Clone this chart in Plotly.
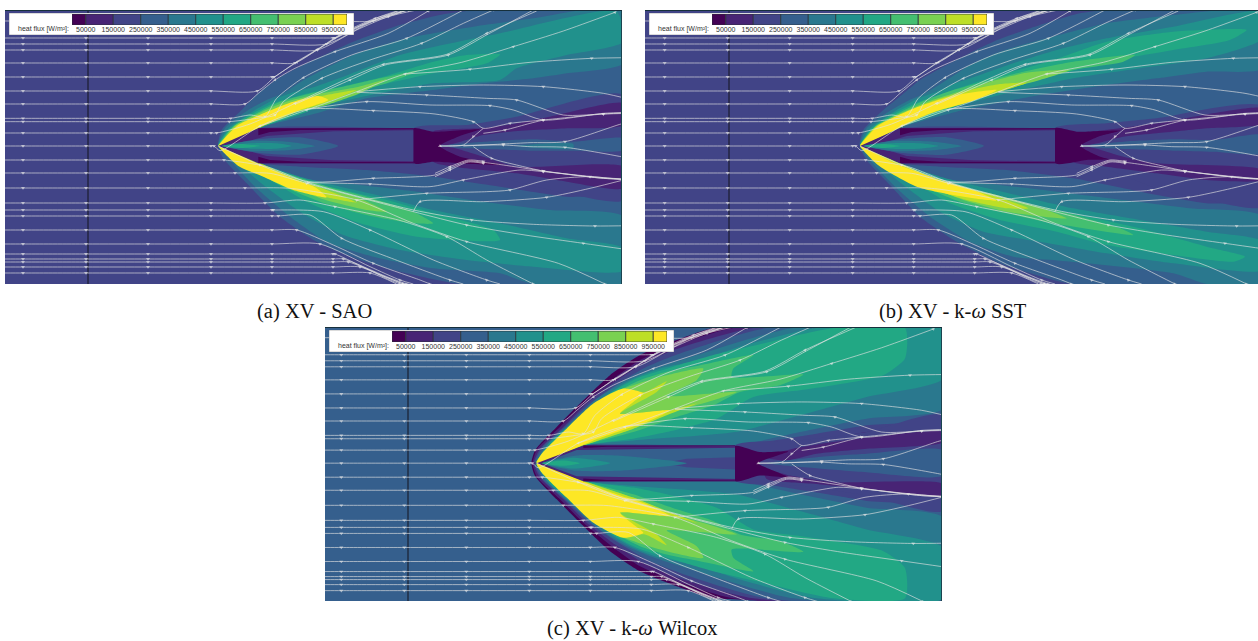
import numpy as np
import plotly.graph_objects as go

W, H = 1258, 641
COLORS = ["#440154", "#482475", "#414487", "#355f8d", "#2a788e", "#21918c",
          "#22a884", "#44bf70", "#7ad151", "#bddf26", "#fde725"]
LEVEL_EDGES = [0, 50000, 150000, 250000, 350000, 450000, 550000, 650000, 750000, 850000, 950000, 1000000]
TICK_VALUES = [50000, 150000, 250000, 350000, 450000, 550000, 650000, 750000, 850000, 950000]
TICK_TEXT = [str(v) for v in TICK_VALUES]
LEGEND_TITLE = "heat flux [W/m²]:"
CAPTIONS = ["(a) XV - SAO", "(b) XV - k-<i>ω</i> SST", "(c) XV - k-<i>ω</i> Wilcox"]

# ---- heat-flux bands: (level index, outline points)
SAO_BANDS = [
 (3,[(55,258),(65,210),(125,150),(175,100),(235,55),(320,10),(460,-55),(600,-105),(720,-135),(830,-150),(1270,-150),(1270,115),(1100,145),(950,175),(850,190),(700,205),(180,205)]),
 (3,[(55,258),(70,295),(140,370),(240,470),(350,545),(480,600),(620,640),(780,672),(1270,672),(1270,420),(1100,410),(900,380),(700,350),(500,330),(300,320),(180,310)]),
 (4,[(55,258),(75,205),(145,150),(200,120),(250,100),(320,55),(460,-15),(620,-65),(820,-100),(1000,-125),(1150,-150),(1270,-150),(1270,10),(1100,40),(1000,55),(850,70),(700,90),(500,115),(350,160),(190,200)]),
 (4,[(55,258),(85,295),(170,385),(270,470),(380,545),(520,590),(700,625),(900,640),(1000,672),(1270,672),(1270,470),(1050,450),(850,425),(650,395),(480,375),(300,355),(180,310)]),
 (5,[(55,258),(85,205),(120,180),(165,150),(230,115),(285,95),(345,80),(430,50),(600,-15),(900,-80),(1250,-145),(1270,-55),(1100,-15),(950,25),(900,60),(700,70),(560,95),(400,130),(300,162),(180,200)]),
 (5,[(55,258),(95,295),(190,375),(300,455),(430,525),(600,570),(800,600),(1000,620),(1270,632),(1270,565),(1100,535),(900,490),(700,450),(550,410),(400,375),(300,350),(180,310)]),
 (6,[(55,258),(90,205),(140,170),(220,130),(325,100),(400,85),(550,50),(700,5),(800,-15),(900,-17),(860,10),(700,40),(500,85),(400,115),(320,155),(180,203)]),
 (6,[(55,258),(110,295),(220,365),(330,430),(480,490),(650,530),(900,540),(880,510),(720,465),(560,420),(430,390),(310,360),(170,310)]),
 (7,[(55,258),(95,205),(150,170),(240,125),(340,98),(430,80),(540,55),(660,30),(560,70),(450,100),(350,135),(250,170),(170,205)]),
 (7,[(55,258),(110,305),(240,375),(360,425),(500,465),(640,490),(700,490),(640,455),(500,410),(400,385),(320,360),(170,310)]),
 (8,[(60,258),(100,200),(150,172),(250,128),(350,103),(470,82),(560,58),(480,100),(380,135),(280,160),(170,205)]),
 (8,[(60,258),(125,310),(250,370),(370,418),(500,450),(560,455),(470,412),(390,390),(290,360),(180,310)]),
 (9,[(60,258),(108,198),(150,178),(270,130),(390,103),(470,90),(385,125),(300,152),(180,202)]),
 (9,[(60,258),(125,312),(260,378),(380,412),(470,428),(380,390),(295,360),(180,310)]),
 (10,[(55,258),(115,195),(185,162),(270,128),(355,108),(385,120),(300,150),(235,175),(170,207)]),
 (10,[(55,258),(115,318),(190,350),(280,390),(380,412),(345,382),(275,355),(170,310)]),
]
SAO_WAKE = [
 (2,[(640,205),(800,195),(950,170),(1270,105),(1270,420),(1100,400),(950,365),(800,325),(640,315)]),
 (1,[(700,215),(840,205),(920,195),(1050,170),(1270,130),(1270,195),(1100,205),(930,215),(850,225),(730,255)]),
 (1,[(730,260),(850,290),(950,320),(1270,320),(1270,385),(1100,365),(950,340),(800,325),(700,305)]),
 (3,[(720,258),(850,245),(1000,238),(1120,245),(1270,235),(1270,270),(1120,272),(1000,272),(800,265)]),
 (4,[(950,258),(1050,250),(1120,252),(1120,265),(1050,266)]),
 (0,[(640,205),(700,215),(840,208),(780,228),(720,258),(780,290),(910,315),(820,312),(700,305),(640,310)]),
]
SAO_BODY = [
 (1,[(55,258),(175,205),(640,205),(640,310),(175,310)]),
 (0,[(175,205),(640,205),(640,208),(300,210),(210,216),(175,226)]),
 (0,[(175,310),(640,310),(640,307),(300,305),(210,300),(175,290)]),
 (2,[(95,258),(200,228),(400,214),(640,211),(640,304),(400,301),(200,288)]),
 (3,[(75,258),(170,238),(300,232),(415,258),(300,284),(170,278)]),
 (4,[(70,258),(150,243),(260,245),(345,258),(260,271),(150,273)]),
 (5,[(65,258),(150,250),(230,250),(275,258),(230,266),(150,266)]),
 (6,[(65,258),(120,252),(180,258),(120,264)]),
]
SST_BANDS = [
 (3,[(60,258),(70,210),(130,150),(185,105),(240,60),(320,15),(460,-55),(600,-105),(720,-140),(800,-150),(1270,-150),(1270,140),(1100,155),(950,185),(850,190),(700,205),(180,205)]),
 (3,[(60,258),(80,300),(150,375),(240,470),(350,545),(480,610),(640,660),(700,672),(1270,672),(1270,440),(1100,430),(900,395),(700,355),(500,330),(300,320),(180,310)]),
 (4,[(60,258),(80,205),(150,152),(205,122),(255,100),(320,60),(400,10),(480,-25),(620,-65),(800,-110),(1000,-135),(1150,-150),(1270,-150),(1270,25),(1100,35),(950,55),(800,75),(600,105),(350,155),(190,200)]),
 (4,[(60,258),(85,295),(170,385),(270,470),(390,545),(520,590),(640,600),(1000,640),(1100,672),(1270,672),(1270,470),(1050,445),(850,420),(650,395),(480,375),(300,355),(180,310)]),
 (5,[(60,258),(90,205),(125,180),(170,150),(235,115),(290,95),(345,70),(420,45),(520,10),(650,-30),(800,-65),(1000,-100),(1270,-145),(1270,-65),(1100,-5),(900,25),(700,55),(500,100),(350,140),(180,200)]),
 (5,[(60,258),(95,295),(190,375),(300,455),(430,515),(600,545),(800,580),(1000,610),(1270,630),(1270,545),(1100,515),(900,480),(700,445),(550,410),(400,375),(300,350),(180,310)]),
 (6,[(60,258),(95,205),(145,170),(225,130),(325,95),(400,70),(500,40),(640,0),(800,-55),(1000,-85),(1220,-90),(1170,-60),(1000,-30),(800,5),(650,45),(500,85),(400,112),(320,152),(180,202)]),
 (6,[(60,258),(110,295),(220,365),(330,430),(480,480),(650,515),(800,555),(1000,585),(1180,605),(1215,590),(1100,560),(900,505),(720,465),(560,430),(430,395),(310,360),(170,310)]),
 (7,[(60,258),(100,205),(155,170),(245,125),(340,90),(420,68),(550,35),(700,5),(885,-15),(850,5),(700,30),(500,88),(350,135),(250,170),(170,205)]),
 (7,[(60,258),(110,305),(240,375),(360,425),(500,460),(640,490),(880,525),(840,505),(720,470),(560,430),(440,400),(320,365),(170,310)]),
 (8,[(60,258),(105,200),(155,172),(255,128),(350,97),(450,65),(560,38),(690,30),(600,60),(480,92),(380,128),(280,158),(170,205)]),
 (8,[(60,258),(125,305),(250,370),(370,420),(500,455),(680,475),(620,450),(470,405),(380,385),(290,360),(180,310)]),
 (9,[(60,258),(110,198),(160,175),(265,128),(380,92),(480,72),(560,68),(480,95),(370,130),(290,152),(175,205)]),
 (9,[(60,258),(125,312),(260,380),(380,420),(500,445),(565,445),(470,410),(380,385),(295,360),(180,310)]),
 (10,[(60,258),(115,197),(230,142),(340,107),(470,90),(400,122),(300,150),(240,172),(165,210)]),
 (10,[(60,258),(115,316),(230,380),(340,405),(470,422),(400,390),(300,360),(170,312)]),
]
SST_WAKE = [
 (2,[(645,205),(800,190),(950,175),(1270,140),(1270,440),(1100,420),(950,385),(800,330),(645,315)]),
 (1,[(720,225),(840,205),(950,190),(1270,145),(1270,190),(1100,205),(950,220),(850,230),(730,255)]),
 (1,[(730,260),(850,290),(950,310),(1270,330),(1270,360),(1100,360),(950,340),(800,320),(700,305)]),
 (3,[(725,258),(850,245),(1000,238),(1120,240),(1270,225),(1270,280),(1120,275),(1000,272),(800,265)]),
 (0,[(645,205),(710,215),(840,212),(780,228),(722,258),(780,290),(810,298),(740,300),(645,310)]),
]
SST_BODY = [
 (1,[(60,258),(180,205),(645,205),(645,310),(180,310)]),
 (0,[(180,205),(645,205),(645,208),(300,210),(215,216),(180,226)]),
 (0,[(180,310),(645,310),(645,307),(300,305),(215,300),(180,290)]),
 (2,[(100,258),(200,228),(400,214),(645,211),(645,304),(400,301),(200,288)]),
 (3,[(80,258),(180,238),(320,232),(432,258),(320,284),(180,278)]),
 (4,[(75,258),(160,243),(280,245),(365,258),(280,271),(160,273)]),
 (5,[(70,258),(150,250),(240,250),(295,258),(240,266),(150,266)]),
 (6,[(70,258),(130,252),(180,258),(130,264)]),
]
# Wilcox bands: upper half; the lower half of this panel mirrors it about the axis
WILCOX_AXIS_Y2 = 826
WILCOX_SHOCK = [
 (0,[(95,413),(105,375),(170,305),(240,235),(330,150),(420,90),(530,45),(640,9),(800,9),(560,75),(440,130),(330,215),(230,310),(150,385),(115,413)]),
 (1,[(98,413),(112,370),(180,305),(250,235),(335,165),(420,105),(530,60),(700,9),(1330,9),(1330,310),(1100,335),(950,350),(880,370),(705,360),(250,360),(110,413)]),
 (2,[(102,410),(120,370),(190,305),(260,235),(345,170),(430,115),(530,72),(760,9),(1330,9),(1330,290),(1100,320),(950,345),(705,360),(250,360),(110,413)]),
 (3,[(105,410),(128,365),(200,300),(270,235),(355,175),(440,125),(540,85),(800,9),(1330,9),(1330,270),(1100,300),(950,325),(705,360),(250,360),(110,413)]),
 (4,[(108,410),(135,365),(210,295),(285,225),(370,170),(450,135),(560,100),(880,9),(1330,9),(1330,250),(1100,280),(900,320),(705,360),(250,360),(110,413)]),
 (5,[(110,410),(145,355),(225,285),(310,215),(390,165),(480,130),(600,105),(720,65),(950,9),(1330,9),(1330,160),(1100,215),(900,270),(705,320),(400,345),(250,360),(110,413)]),
 (6,[(110,410),(160,345),(240,280),(330,205),(410,160),(520,125),(640,90),(770,60),(1000,9),(1215,9),(1215,100),(1150,150),(1000,180),(900,195),(760,215),(650,280),(500,320),(400,340),(250,360)]),
 (7,[(110,410),(170,340),(250,270),(340,205),(420,165),(500,140),(600,120),(760,90),(700,130),(695,155),(910,148),(840,180),(720,200),(640,240),(530,275),(400,320),(250,360)]),
 (8,[(110,410),(180,330),(260,265),(350,200),(430,170),(500,150),(610,130),(590,165),(500,212),(710,200),(640,225),(520,260),(400,310),(250,360)]),
 (9,[(110,410),(190,320),(270,255),(360,195),(435,200),(500,168),(470,200),(360,265),(510,255),(590,235),(500,270),(400,310),(250,360)]),
 (10,[(110,413),(125,385),(200,310),(280,235),(370,190),(430,205),(400,230),(360,265),(510,255),(440,290),(380,310),(280,345),(250,358)]),
]
WILCOX_WAKE = [
 (2,[(705,360),(900,345),(1100,320),(1330,270),(1330,555),(1100,510),(900,480),(705,465)]),
 (1,[(790,395),(880,370),(1000,350),(1330,320),(1330,350),(1100,370),(950,385),(860,405)]),
 (1,[(790,430),(870,450),(1000,470),(1330,475),(1330,510),(1100,490),(950,475),(800,460)]),
 (3,[(800,413),(950,395),(1100,385),(1330,375),(1330,450),(1100,440),(950,428)]),
 (0,[(705,362),(780,380),(865,378),(775,413),(865,455),(780,450),(705,467)]),
]
WILCOX_BODY = [
 (1,[(110,413),(250,360),(705,360),(705,467),(250,467)]),
 (0,[(250,360),(705,360),(705,362),(320,364),(250,368)]),
 (0,[(250,467),(705,467),(705,465),(320,463),(250,459)]),
 (3,[(125,413),(230,374),(705,367),(705,460),(230,452)]),
 (2,[(490,413),(560,400),(705,395),(705,432),(560,425)]),
 (4,[(130,413),(230,390),(350,390),(560,413),(350,436),(230,436)]),
 (5,[(130,413),(220,397),(330,413),(220,429)]),
 (6,[(125,413),(190,405),(240,413),(190,421)]),
]

# ---- streamlines (coordinates of panel a): upstream height, then path from the shock on
ARROW_X = [-531, -342, -156, 33, 216, 399]
STREAM_TAILS = {
 -117:[(520,-117),(620,-150)],
 -66:[(405,-66),(530,-122),(625,-150)],
 -48:[(380,-48),(505,-110),(600,-150)],
 -30:[(352,-30),(470,-90),(565,-130),(650,-150)],
 9:[(285,9),(350,-30),(430,-80),(530,-122),(625,-150)],
 51:[(222,51),(290,5),(352,-32),(430,-82),(525,-125),(620,-150)],
 93:[(172,93),(225,50),(290,7),(335,-20),(430,-78),(540,-130),(600,-150)],
 132:[(135,132),(175,100),(225,60),(285,25),(405,-25),(565,-80),(685,-147)],
 175:[(92,175),(150,165),(195,170),(230,115),(310,53),(455,-15),(620,-65),(790,-150)],
 185:[(88,185),(170,175),(225,165),(250,125),(365,55),(510,0),(665,-50),(790,-110),(880,-150)],
 219:[(50,219),(150,192),(285,130),(445,55),(550,13),(740,-17),(860,-80),(1010,-147)],
 258:[(42,258),(60,272),(180,198),(320,148),(520,152),(705,162),(820,185),(850,205),(930,190),(1030,180),(1210,162),(1290,158)],
 300:[(72,300),(200,320),(325,368),(640,450),(815,480),(1000,493),(1185,498),(1290,497)],
 339:[(105,339),(210,340),(320,370),(640,455),(800,495),(975,525),(1150,550),(1290,570)],
 384:[(135,384),(270,385),(470,420),(640,490),(800,545),(1075,610),(1215,672)],
 429:[(195,429),(300,420),(405,440),(595,480),(740,530),(860,600),(1000,672)],
 450:[(220,450),(370,455),(510,510),(700,600),(860,660),(900,672)],
 468:[(235,468),(330,465),(425,535),(575,595),(750,660),(790,672)],
 510:[(290,510),(400,555),(520,610),(660,660),(690,672)],
 552:[(360,552),(510,620),(600,660),(640,672)],
 582:[(405,582),(530,640),(610,672)],
 597:[(430,597),(560,650),(620,672)],
 606:[(445,606),(555,650),(610,672)],
 621:[(480,621),(570,660),(600,672)],
 639:[(510,639),(590,672)],
}
WAKE_STREAMS = [
 [(180,198),(320,150),(470,95),(615,42),(785,7),(940,-40),(1090,-87),(1245,-143)],
 [(285,133),(450,60),(555,15),(745,-15),(865,-78),(1000,-150)],
 [(320,148),(500,125),(690,135),(870,137),(940,150),(1030,180),(1210,160),(1290,157)],
 [(470,97),(680,105),(860,115),(950,120),(1090,165),(1210,162),(1290,160)],
 [(470,95),(660,80),(850,75),(1030,80),(1210,100),(1290,118)],
 [(615,42),(810,28),(990,7),(1175,-5),(1290,-7)],
 [(850,205),(820,230),(790,255),(720,258)],
 [(720,258),(910,255),(990,260),(1095,262),(1263,290),(1290,296)],
 [(790,258),(910,252),(990,248),(1095,245),(1263,192),(1290,186)],
 [(850,220),(915,210),(990,190),(1030,180)],
 [(55,258),(180,315),(325,365),(520,355),(705,345),(750,325),(805,303),(850,307),(910,315),(1030,333),(1210,355),(1290,358)],
 [(325,368),(510,372),(690,380),(790,360),(960,330),(1030,335),(1210,353),(1290,358)],
 [(470,420),(680,400),(860,395),(930,390),(1040,360),(1170,350),(1290,362)],
 [(640,455),(660,425),(850,425),(1040,412),(1170,385),(1290,355)],
 [(820,260),(875,295),(950,315),(1030,333),(1210,355),(1290,358)],
 [(705,350),(750,330),(805,306),(850,310)],
 [(705,340),(750,320),(805,300),(850,304)],
]

PANELS = [
 dict(px=(5,621), py=(11,284), x=(-585,1263), y=(-147,672), dx=0, dy=0, probe=-336, box=(9,13),
      layers=[SAO_BANDS, SAO_WAKE, SAO_BODY], bg=2),
 dict(px=(645,1258), py=(11,284), x=(-585,1254), y=(-147,672), dx=5, dy=0, probe=-333, box=(649,13),
      layers=[SST_BANDS, SST_WAKE, SST_BODY], bg=2),
 dict(px=(325,941), py=(328,601), x=(-525,1323), y=(9,825), dx=55, dy=155, probe=-276, box=(329,330),
      layers=[WILCOX_SHOCK, [(l,[(a,WILCOX_AXIS_Y2-b) for a,b in p]) for l,p in WILCOX_SHOCK], WILCOX_WAKE, WILCOX_BODY], bg=3),
]

def dom_x(a, b): return [a / W, min(b / W, 1)]
def dom_y(a, b): return [1 - b / H, 1 - a / H]

fig = go.Figure()
layout = dict(width=W, height=H, margin=dict(l=0, r=0, t=0, b=0), paper_bgcolor="white",
              plot_bgcolor="rgba(0,0,0,0)", showlegend=False, barmode="overlay",
              font=dict(family="Liberation Sans", size=7, color="#222"))
hidden = dict(showgrid=False, zeroline=False, showticklabels=False, ticks="", fixedrange=True)
ax = 1
def name(n): return "" if n == 1 else str(n)

for P in PANELS:
    n = ax
    xa, ya = "x" + name(n), "y" + name(n)
    layout["xaxis" + name(n)] = dict(hidden, domain=dom_x(*P["px"]), range=list(P["x"]), anchor=ya,
                                     showline=True, side="top", linecolor="#16303c", linewidth=1)
    layout["yaxis" + name(n)] = dict(hidden, domain=dom_y(*P["py"]), range=[P["y"][1], P["y"][0]], anchor=xa,
                                     showline=True, side="right", linecolor="#1b4450", linewidth=1)
    fig.add_trace(go.Scatter(x=[P["x"][0], P["x"][1], P["x"][1], P["x"][0]],
                             y=[P["y"][0], P["y"][0], P["y"][1], P["y"][1]], fill="toself", mode="lines",
                             line=dict(width=0), fillcolor=COLORS[P["bg"]], xaxis=xa, yaxis=ya, hoverinfo="skip"))
    for layer in P["layers"]:
        is_body = layer is P["layers"][-1]
        for lev, pts in layer:
            xs, ys = zip(*pts)
            straight = is_body and sum(1 for v in xs if v == max(xs)) >= 2
            fig.add_trace(go.Scatter(x=xs + xs[:1], y=ys + ys[:1], fill="toself", mode="lines",
                                     line=dict(width=0, shape="linear" if straight else "spline", smoothing=0.6),
                                     fillcolor=COLORS[lev], xaxis=xa, yaxis=ya, hoverinfo="skip"))
    fig.add_trace(go.Scatter(x=[P["probe"], P["probe"]], y=list(P["y"]), mode="lines",
                             line=dict(color="#15151f", width=1), xaxis=xa, yaxis=ya, hoverinfo="skip"))
    paths = []
    for y0, tail in STREAM_TAILS.items():
        up = [(x, y0) for x in [P["x"][0] - P["dx"]] + ARROW_X if x < tail[0][0]]
        sizes = [0] + [3.5] * (len(up) - 1) + [0 if i % 2 else 3.5 for i in range(len(tail))]
        paths.append((up + tail, sizes))
    for path in WAKE_STREAMS:
        paths.append((path, [0 if i % 2 == 0 else 3.5 for i in range(len(path))]))
    for path, sizes in paths:
        xs = [p[0] + P["dx"] for p in path]
        ys = [p[1] + P["dy"] for p in path]
        fig.add_trace(go.Scatter(x=xs, y=ys, mode="lines+markers",
                                 line=dict(color="rgba(226,226,226,0.72)", width=0.9, shape="spline", smoothing=0.7),
                                 marker=dict(symbol="triangle-right", size=sizes, color="rgba(235,235,235,0.9)",
                                             line=dict(width=0), angleref="previous"),
                                 xaxis=xa, yaxis=ya, hoverinfo="skip"))
    ax += 1

    bx, by = P["box"]
    n = ax
    xa, ya = "x" + name(n), "y" + name(n)
    layout["xaxis" + name(n)] = dict(hidden, domain=dom_x(bx, bx + 345), range=[0, 1], anchor=ya)
    layout["yaxis" + name(n)] = dict(hidden, domain=dom_y(by, by + 22), range=[0, 1], anchor=xa)
    fig.add_trace(go.Scatter(x=[0, 1, 1, 0, 0], y=[0, 0, 1, 1, 0], fill="toself", mode="lines", fillcolor="white",
                             line=dict(color="#888", width=0.6), xaxis=xa, yaxis=ya, hoverinfo="skip"))
    ax += 1

    n = ax
    xa, ya = "x" + name(n), "y" + name(n)
    layout["xaxis" + name(n)] = dict(domain=dom_x(bx + 63, bx + 338), range=[0, 1000000], anchor=ya, showgrid=False,
                                     zeroline=False, tickvals=TICK_VALUES, ticktext=TICK_TEXT, ticks="", fixedrange=True,
                                     ticklabelstandoff=-1,
                                     tickfont=dict(family="Liberation Sans", size=7, color="#333"))
    layout["yaxis" + name(n)] = dict(hidden, domain=dom_y(by + 1, by + 12), range=[-0.5, 0.5], anchor=xa)
    fig.add_trace(go.Bar(y=[0] * len(COLORS), x=np.diff(LEVEL_EDGES), base=LEVEL_EDGES[:-1], width=1, orientation="h",
                         marker=dict(color=COLORS, line=dict(color="#2a3338", width=0.8)),
                         xaxis=xa, yaxis=ya, hoverinfo="skip"))
    ax += 1

annotations = []
for P in PANELS:
    bx, by = P["box"]
    annotations.append(dict(text=LEGEND_TITLE, x=(bx + 62) / W, y=1 - (by + 16) / H, xref="paper", yref="paper",
                            xanchor="right", yanchor="middle", showarrow=False,
                            font=dict(family="Liberation Sans", size=7, color="#333")))
CAPTION_POS = [(314, 311), (953, 311), (632, 628)]
for t, (cx, cy) in zip(CAPTIONS, CAPTION_POS):
    annotations.append(dict(text=t, x=cx / W, y=1 - cy / H, xref="paper", yref="paper", xanchor="center",
                            yanchor="middle", showarrow=False,
                            font=dict(family="Liberation Serif", size=20.5, color="#111")))
layout["annotations"] = annotations
fig.update_layout(**layout)
fig.write_html("out.html", config={"displayModeBar": False}, post_script="document.body.style.margin='0';")
